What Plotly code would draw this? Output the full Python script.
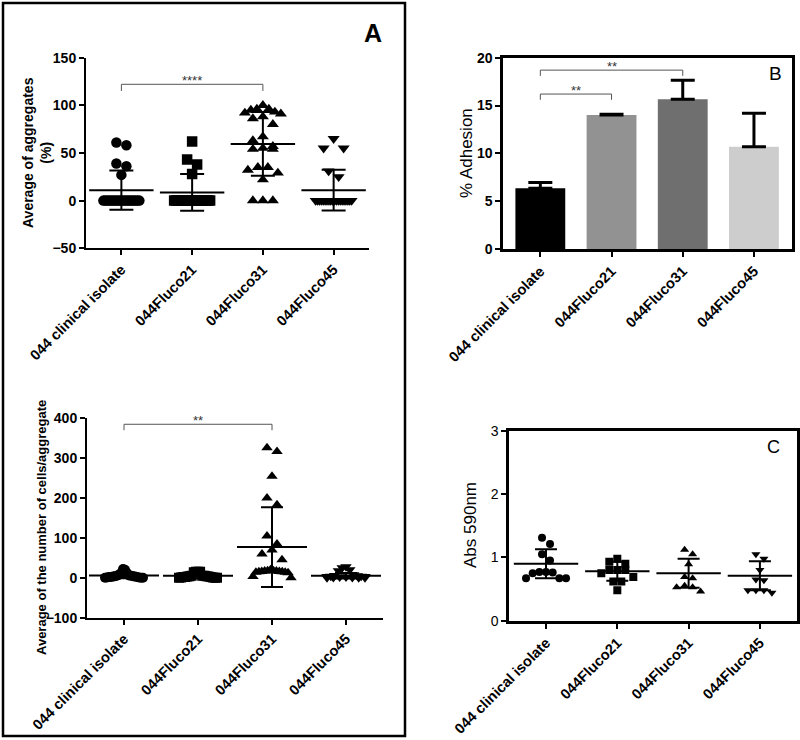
import plotly.graph_objects as go

W, H = 800, 740
FONT = "Liberation Sans, Arial, sans-serif"

categories = ["044 clinical isolate", "044Fluco21", "044Fluco31", "044Fluco45"]
cat_pos = [0, 1, 2, 3]

# ---- Panel A (top-left): average of aggregates (%) ----
agg_clinical = [61, 58, 39, 36, 27, 0, 0, 0, 0, 0, 0, 0, 0, 0, 0, 0, 0, 0, 0, 0, 0, 0, 0, 0, 0]
agg_f21 = [62, 43, 38, 28, 0, 0, 0, 0, 0, 0, 0, 0, 0, 0, 0, 0, 0, 0, 0, 0, 0, 0, 0, 0, 0]
agg_f31 = [100, 96, 96, 95, 93, 92, 91, 88, 86, 80, 67, 63, 57, 54, 54, 55, 35, 35, 32, 29, 22, 0, 0, 0]
agg_f45 = [65, 55, 55, 31, 25, 0, 0, 0, 0, 0, 0, 0, 0, 0, 0, 0, 0, 0, 0, 0, 0, 0, 0, 0, 0]
agg_mean = [11, 8.6, 59.5, 11]
agg_sd = [20.7, 19.2, 33.5, 21.3]

# ---- Panel B (top-right): % adhesion ----
adh_mean = [6.35, 14.0, 15.65, 10.7]
adh_err = [0.6, 0.1, 2.0, 3.5]
adh_colors = ["#000000", "#929292", "#6f6f6f", "#cdcdcd"]

# ---- Bottom-left: cells per aggregate ----
cells_clinical = [22, 20, 12, 12, 8, 6, 5, 5, 4, 4, 3, 3, 2, 2, 2, 1, 1, 0, 0, 0]
cells_f21 = [15, 15, 15, 14, 5, 5, 5, 4, 4, 3, 3, 2, 2, 2, 1, 1, 0, 0, 0]
cells_f31 = [326, 317, 255, 200, 183, 105, 85, 70, 60, 45, 20, 18, 18, 17, 17, 16, 16, 15, 15, 14, 14, 13, 3, 0]
cells_f45 = [28, 25, 20, 18, 8, 6, 5, 4, 4, 3, 3, 2, 2, 1, 1, 0, 0, 0]
cells_mean = [6, 5, 77, 5]
cells_sd = [7, 6, 100, 7]

# ---- Panel C (bottom-right): Abs 590nm ----
abs_clinical = [1.31, 1.21, 1.05, 0.95, 0.77, 0.77, 0.76, 0.75, 0.67, 0.67, 0.67]
abs_f21 = [0.98, 0.93, 0.9, 0.8, 0.8, 0.8, 0.75, 0.69, 0.62, 0.62, 0.48]
abs_f31 = [1.12, 1.05, 0.89, 0.69, 0.67, 0.55, 0.53, 0.53, 0.46]
abs_f45 = [1.05, 0.98, 0.8, 0.65, 0.64, 0.48, 0.48, 0.48, 0.44]
abs_mean = [0.9, 0.78, 0.75, 0.71]
abs_sd = [0.23, 0.15, 0.23, 0.23]

symbols = ["circle", "square", "triangle-up", "triangle-down"]

# significance brackets: (from category, to category, height, tick drop, label)
brackets_A = [(0, 2, 122, 7, "****")]
brackets_B = [(0, 2, 18.7, 0.6, "**"), (0, 1, 16.2, 0.6, "**")]
brackets_cells = [(0, 2, 385, 15, "**")]


def xd(p0, p1):
    return [p0 / W, p1 / W]


def yd(top, bottom):
    return [1 - bottom / H, 1 - top / H]


# panel geometry in pixels: (x0, x1, ytop, ybottom, xrange, yrange)
geo = {
    "A": (86, 369, 57.6, 248.3, [-0.5, 3.5], [-50, 150]),
    "B": (503.3, 791.7, 57.7, 249, [-0.52, 3.53], [0, 20]),
    "D": (87, 383, 418.3, 617.7, [-0.5, 3.5], [-100, 400]),
    "C": (509.3, 796.7, 430.7, 620.7, [-0.515, 3.516], [0, 3]),
}


def swarm(vals, key, d, maxhalf):
    x0, x1, yt, yb, xr, yr = geo[key]
    xpp = (xr[1] - xr[0]) / (x1 - x0)
    ypp = (yr[1] - yr[0]) / (yb - yt)
    order = sorted(range(len(vals)), key=lambda i: -vals[i])
    offs = [0.0] * len(vals)
    clusters, cur = [], []
    for i in order:
        if cur and abs(vals[cur[0]] - vals[i]) > d * ypp:
            clusters.append(cur)
            cur = []
        cur.append(i)
    clusters.append(cur)
    for c in clusters:
        n = len(c)
        if n == 1:
            continue
        sp = min(d, 2 * maxhalf / (n - 1))
        slots = [(k - (n - 1) / 2) * sp for k in range(n)]
        slots.sort(key=lambda s: (abs(s), s))
        for i, s in zip(c, slots):
            offs[i] = s * xpp
    return offs


fig = go.Figure()


def add_scatter_panel(groups, means, sds, key, xa, ya, msize, d, maxhalf, meanw, capw):
    for gi, vals in enumerate(groups):
        offs = swarm(vals, key, d, maxhalf)
        fig.add_trace(go.Scatter(
            x=[cat_pos[gi] + o for o in offs], y=vals, mode="markers",
            marker=dict(symbol=symbols[gi], size=msize, color="black", line=dict(width=0)),
            xaxis=xa, yaxis=ya, showlegend=False, hoverinfo="skip"))
    fig.add_trace(go.Scatter(
        x=cat_pos, y=means, mode="markers",
        marker=dict(symbol="line-ew", size=meanw, line=dict(width=2, color="black"), color="black"),
        error_y=dict(type="data", array=sds, visible=True, thickness=2, width=capw, color="black"),
        xaxis=xa, yaxis=ya, showlegend=False, hoverinfo="skip"))


add_scatter_panel([agg_clinical, agg_f21, agg_f31, agg_f45], agg_mean, agg_sd,
                  "A", "x", "y", 10.5, 10, 18, 46, 12)
add_scatter_panel([cells_clinical, cells_f21, cells_f31, cells_f45], cells_mean, cells_sd,
                  "D", "x3", "y3", 10, 10, 19, 50, 11)
add_scatter_panel([abs_clinical, abs_f21, abs_f31, abs_f45], abs_mean, abs_sd,
                  "C", "x4", "y4", 8, 8, 20, 46, 11)

fig.add_trace(go.Bar(
    x=cat_pos, y=adh_mean, width=0.7, marker=dict(color=adh_colors, line=dict(width=0)),
    error_y=dict(type="data", symmetric=False, array=adh_err, arrayminus=[0, 0, 0, 0],
                 visible=True, thickness=3, width=12, color="black"),
    xaxis="x2", yaxis="y2", showlegend=False, hoverinfo="skip"))

bold_tick = dict(family=FONT, size=14, color="black", weight="bold")
xbold_tick = dict(family=FONT, size=14.6, color="black", weight="bold")
norm_tick = dict(family=FONT, size=14, color="black")


def xaxis_cfg(key, anchor, boxed):
    x0, x1, yt, yb, xr, yr = geo[key]
    return dict(domain=xd(x0, x1), range=xr, anchor=anchor, tickmode="array",
                tickvals=cat_pos, ticktext=categories, tickangle=-45, tickfont=xbold_tick,
                showline=True, linecolor="black", linewidth=3 if boxed else 2,
                mirror=boxed, ticks="outside", ticklen=5, tickwidth=2, tickcolor="black",
                showgrid=False, zeroline=False, fixedrange=True, automargin=False)


def yaxis_cfg(key, anchor, boxed, dtick, font):
    x0, x1, yt, yb, xr, yr = geo[key]
    return dict(domain=yd(yt, yb), range=yr, anchor=anchor, dtick=dtick, tick0=yr[0],
                tickfont=font, showline=True, linecolor="black",
                linewidth=3 if boxed else 2, mirror=boxed, ticks="outside", ticklen=5,
                tickwidth=2, tickcolor="black", showgrid=False, zeroline=False,
                fixedrange=True, automargin=False)


shapes = []
annotations = []


def add_brackets(specs, xa, ya, fsize):
    for a, b, h, drop, label in specs:
        shapes.append(dict(type="path", xref=xa, yref=ya,
                           path=f"M {a},{h - drop} L {a},{h} L {b},{h} L {b},{h - drop}",
                           line=dict(color="#555555", width=1)))
        annotations.append(dict(x=(a + b) / 2, y=h, xref=xa, yref=ya, text=label,
                                showarrow=False, yanchor="bottom", yshift=-6,
                                font=dict(family=FONT, size=fsize, color="#333333")))


add_brackets(brackets_A, "x", "y", 13)
add_brackets(brackets_B, "x2", "y2", 13)
add_brackets(brackets_cells, "x3", "y3", 13)

# outer frame around left column
shapes.append(dict(type="rect", xref="paper", yref="paper",
                   x0=3 / W, x1=405 / W, y0=1 - 736 / H, y1=1 - 3 / H,
                   line=dict(color="black", width=2.5)))


def ann(text, px, py, size, bold=False, angle=0):
    annotations.append(dict(text=text, x=px / W, y=1 - py / H, xref="paper", yref="paper",
                            showarrow=False, xanchor="center", yanchor="middle",
                            textangle=angle,
                            font=dict(family=FONT, size=size, color="black",
                                      weight="bold" if bold else "normal")))


ann("A", 373, 33, 25, bold=True)
ann("B", 775, 73, 19)
ann("C", 773, 447, 18)
ann("Average of aggregates<br>(%)", 37, 153, 14, bold=True, angle=-90)
ann("Average of the number of cells/aggregate", 41, 528, 13, bold=True, angle=-90)
ann("% Adhesion", 466, 153, 17, angle=-90)
ann("Abs 590nm", 470, 525, 17, angle=-90)

fig.update_layout(
    width=W, height=H, margin=dict(l=0, r=0, t=0, b=0, pad=0, autoexpand=False),
    paper_bgcolor="white", plot_bgcolor="white",
    font=dict(family=FONT, color="black"),
    xaxis=xaxis_cfg("A", "y", False),
    yaxis=yaxis_cfg("A", "x", False, 50, bold_tick),
    xaxis2=xaxis_cfg("B", "y2", True),
    yaxis2=yaxis_cfg("B", "x2", True, 5, bold_tick),
    xaxis3=xaxis_cfg("D", "y3", False),
    yaxis3=yaxis_cfg("D", "x3", False, 100, bold_tick),
    xaxis4=xaxis_cfg("C", "y4", True),
    yaxis4=yaxis_cfg("C", "x4", True, 1, norm_tick),
    shapes=shapes, annotations=annotations, bargap=0.3,
)

fig.write_html("out.html", config={"displayModeBar": False},
               post_script="document.body.style.margin='0';document.body.style.overflow='hidden';")
